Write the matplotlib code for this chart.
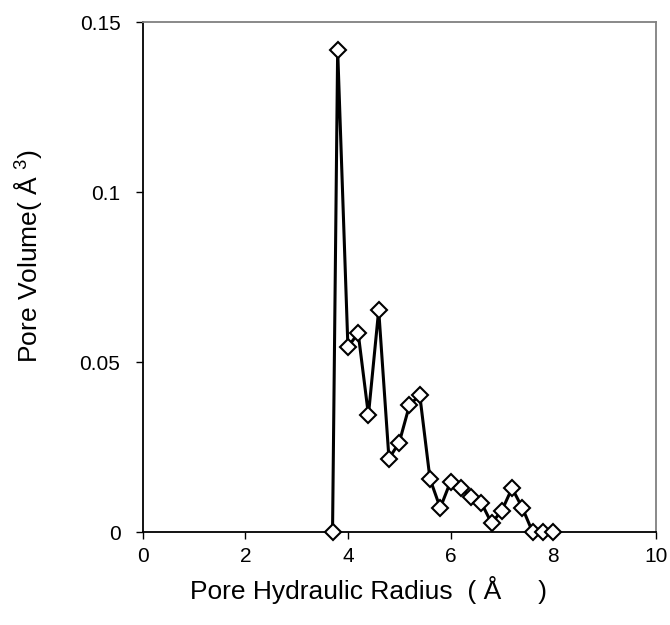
import matplotlib
matplotlib.use("Agg")
import matplotlib.pyplot as plt

radius = [3.7, 3.8, 4.0, 4.2, 4.4, 4.6, 4.8, 5.0, 5.2, 5.4, 5.6, 5.8, 6.0, 6.2, 6.4,
          6.6, 6.8, 7.0, 7.2, 7.4, 7.6, 7.8, 8.0]
volume = [0.0, 0.1418, 0.0544, 0.0585, 0.0344, 0.0653, 0.0216, 0.0263, 0.0373, 0.0403,
          0.0156, 0.0071, 0.0148, 0.0129, 0.0103, 0.0086, 0.0026, 0.0063, 0.0129,
          0.0071, 0.0, 0.0, 0.0]
xticks = [0, 2, 4, 6, 8, 10]
yticks = [0, 0.05, 0.1, 0.15]
yticklabels = ["0", "0.05", "0.1", "0.15"]

plt.rcParams['font.family'] = ['Liberation Sans', 'DejaVu Sans']
plt.rcParams['mathtext.fontset'] = 'custom'
plt.rcParams['mathtext.rm'] = 'Liberation Sans'
plt.rcParams['mathtext.it'] = 'Liberation Sans'

fig = plt.figure(figsize=(6.7, 6.25), dpi=100)
ax = fig.add_axes([0.213, 0.1488, 0.7657, 0.816])
ax.plot(radius, volume, color='black', linewidth=2.2, marker='D', markersize=8.5,
        markerfacecolor='white', markeredgecolor='black', markeredgewidth=1.5,
        clip_on=False, zorder=3)
ax.set_xlim(0, 10)
ax.set_ylim(0, 0.15)
ax.set_xticks(xticks)
ax.set_yticks(yticks)
ax.set_yticklabels(yticklabels)
ax.tick_params(axis='both', direction='out', length=5, width=1, labelsize=15)
ax.tick_params(axis='y', pad=11)
ax.tick_params(axis='x', pad=6)
for s in ['left', 'bottom']:
    ax.spines[s].set_color('black')
    ax.spines[s].set_linewidth(1.3)
for s in ['top', 'right']:
    ax.spines[s].set_color('#808080')
    ax.spines[s].set_linewidth(1.3)
fig.text(368 / 670, 1 - 590 / 625, "Pore Hydraulic Radius  ( Å     )", fontsize=19,
         ha='center', va='center')
fig.text(28 / 670, 1 - 256 / 625, "Pore Volume( Å $^{3}$)", fontsize=19,
         ha='center', va='center', rotation=90)
fig.savefig("out.png", dpi=100)
